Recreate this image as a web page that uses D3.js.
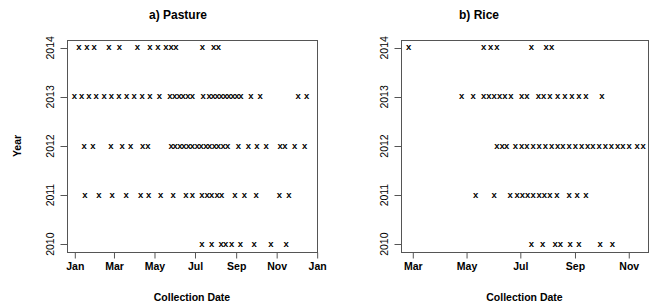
<!DOCTYPE html>
<html><head><meta charset="utf-8">
<script src="https://cdn.jsdelivr.net/npm/d3@7"></script>
<style>html,body{margin:0;padding:0;background:#fff}svg{display:block}</style>
</head><body><svg id="c" width="653" height="308"></svg>
<script>
// ---- data: collection day-of-year (0 = Jan 1) for each year ----
const years = [2010, 2011, 2012, 2013, 2014];
const panelTitles = ["a) Pasture", "b) Rice"];
const xLabel = "Collection Date";
const yLabel = "Year";

const pasture2014 = [7, 19, 30, 52, 68, 95, 114, 126, 138, 146, 153, 193, 210, 217];
const pasture2013 = [0, 11, 22, 33, 45, 56, 67, 79, 90, 102, 114, 128, 144, 151, 158, 164, 171, 178, 194, 203, 209, 215, 221, 227, 233, 239, 245, 251, 266, 280, 337, 350];
const pasture2012 = [15, 28, 55, 72, 85, 103, 111, 146, 152, 159, 165, 172, 178, 185, 191, 198, 204, 211, 217, 224, 231, 247, 262, 275, 289, 310, 317, 332, 347];
const pasture2011 = [16, 37, 57, 78, 100, 112, 130, 149, 168, 178, 192, 200, 207, 215, 222, 242, 256, 274, 309, 323];
const pasture2010 = [192, 207, 221, 228, 237, 250, 271, 296, 319];

const rice2014 = [55, 140, 148, 155, 194, 211, 217];
const rice2013 = [115, 128, 140, 146, 152, 158, 164, 171, 183, 189, 202, 208, 215, 224, 232, 240, 248, 256, 274];
const rice2012 = [155, 161, 166, 176, 183, 189, 196, 203, 210, 217, 224, 230, 237, 244, 251, 258, 264, 271, 278, 285, 292, 298, 305, 314, 321];
const rice2011 = [131, 152, 170, 178, 184, 190, 196, 203, 209, 215, 223, 237, 246, 256];
const rice2010 = [194, 207, 221, 227, 238, 248, 272, 286];

// ---- layout ----
const FONT = "'Liberation Sans', Arial, Helvetica, sans-serif";
const boxTop = 40, boxBottom = 252;
const base = Date.UTC(2001, 0, 1);
const dayToDate = d => new Date(base + d * 864e5);

const panels = [
  {title: panelTitles[0], rows: [pasture2010, pasture2011, pasture2012, pasture2013, pasture2014],
   dom: [-11, 365.5], x0: 67, x1: 317, titleX: 178, showYLabel: true},
  {title: panelTitles[1], rows: [rice2010, rice2011, rice2012, rice2013, rice2014],
   dom: [46.2, 326.4], x0: 401, x1: 648, titleX: 479, showYLabel: false}
];

const svg = d3.select("#c");
const lineCol = "#555";

panels.forEach(p => {
  const g = svg.append("g");
  const x = d3.scaleUtc().domain(p.dom.map(dayToDate)).range([p.x0, p.x1]);
  const y = d3.scaleLinear().domain([2009.84, 2014.16]).range([boxBottom, boxTop]);

  // box
  g.append("rect").attr("x", p.x0 + 0.5).attr("y", boxTop + 0.5)
    .attr("width", p.x1 - p.x0).attr("height", boxBottom - boxTop)
    .attr("fill", "none").attr("stroke", lineCol).attr("stroke-width", 1);

  // x axis
  const xa = g.append("g").attr("transform", `translate(0.5,${boxBottom + 0.5})`)
    .call(d3.axisBottom(x).ticks(d3.utcMonth.every(2)).tickFormat(d3.utcFormat("%b"))
      .tickSize(6).tickSizeOuter(0).tickPadding(4));
  xa.select(".domain").remove();
  xa.selectAll(".tick line").attr("stroke", lineCol);
  xa.selectAll(".tick text").attr("fill", "#000").attr("font-family", FONT)
    .attr("font-size", 10.5).attr("font-weight", "bold");

  // y axis
  years.forEach(yr => {
    const yy = Math.round(y(yr)) + 0.5;
    g.append("line").attr("x1", p.x0 - 6.5).attr("x2", p.x0).attr("y1", yy).attr("y2", yy)
      .attr("stroke", lineCol);
    g.append("text").attr("transform", `translate(${p.x0 - 13.5},${y(yr)}) rotate(-90)`)
      .attr("text-anchor", "middle").attr("font-family", FONT).attr("font-size", 10.5)
      .attr("fill", "#000").text(yr);
  });

  // points drawn as "x" characters
  p.rows.forEach((row, i) => {
    g.selectAll(null).data(row).enter().append("text")
      .attr("x", d => x(dayToDate(d))).attr("y", y(years[i]) + 2.5)
      .attr("text-anchor", "middle").attr("font-family", FONT).attr("font-size", 9.5)
      .attr("font-weight", "bold").attr("fill", "#000").text("x");
  });

  // title
  g.append("text").attr("x", p.titleX).attr("y", 18.5).attr("text-anchor", "middle")
    .attr("font-family", FONT).attr("font-size", 12).attr("font-weight", "bold").text(p.title);

  // x label
  g.append("text").attr("x", (p.x0 + p.x1) / 2).attr("y", 301).attr("text-anchor", "middle")
    .attr("font-family", FONT).attr("font-size", 10.5).attr("font-weight", "bold").text(xLabel);

  if (p.showYLabel) {
    g.append("text").attr("transform", `translate(21,${(boxTop + boxBottom) / 2}) rotate(-90)`)
      .attr("text-anchor", "middle").attr("font-family", FONT).attr("font-size", 10.5)
      .attr("font-weight", "bold").text(yLabel);
  }
});
</script></body></html>
